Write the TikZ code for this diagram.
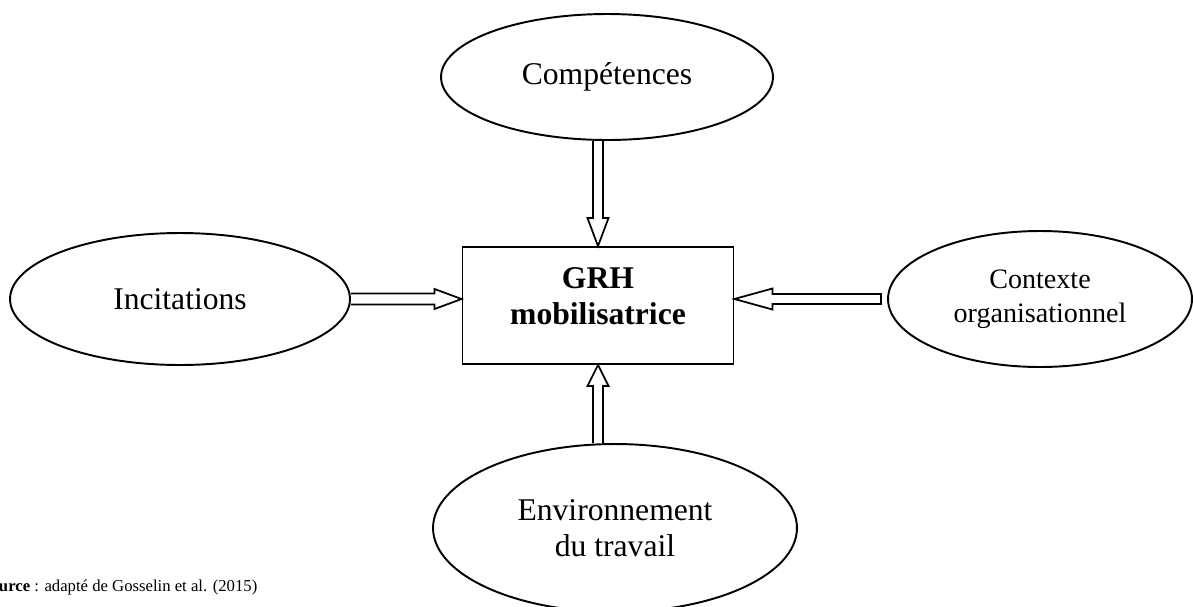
\documentclass[tikz,border=0pt]{standalone}
\usepackage{fontspec}
\setmainfont{Liberation Serif}
\usetikzlibrary{shapes.geometric,calc}
\begin{document}
\begin{tikzpicture}[x=0.02cm,y=-0.02cm,
  bubble/.style={ellipse, draw, line width=1.1pt, inner sep=0pt, align=center,
    font=\fontsize{18}{20.5}\selectfont},
  core/.style={rectangle, draw, line width=1.1pt, inner sep=0pt,
    minimum width=5.42cm, minimum height=2.34cm},
  hollow/.style={draw, line width=1pt, line join=miter}]
\useasboundingbox (0,0) rectangle (1193,606);

% factor ellipses
\node[bubble, minimum width=6.64cm, minimum height=2.52cm] (comp) at (607,77) {Compétences};
\node[bubble, minimum width=6.8cm, minimum height=2.64cm] (inc) at (180,299) {Incitations};
\node[bubble, minimum width=6.08cm, minimum height=2.72cm,
  font=\fontsize{16}{19.4}\selectfont] (ctx) at (1040,299) {Contexte\\organisationnel};
\node[bubble, minimum width=7.28cm, minimum height=3.36cm] (env) at (615,528) {Environnement\\du travail};

% central box
\node[core] (box) at (598,305.5) {};
\node[align=center, font=\bfseries\fontsize{18}{20.5}\selectfont] (grh) at (598,296) {GRH\\mobilisatrice};

% top hollow arrow
\coordinate (t0) at (box.north |- comp.south);
\draw[hollow] ($(t0)+(-5,0)$) -- ($(box.north)+(-5,-28)$) -- ($(box.north)+(-10.5,-28)$)
  -- (box.north) -- ($(box.north)+(10.5,-28)$) -- ($(box.north)+(5,-28)$) -- ($(t0)+(5,0)$);

% left hollow arrow
\coordinate (l0) at (inc.east);
\coordinate (l1) at (box.west |- inc.east);
\draw[hollow] ($(l0)+(0,-5.5)$) -- ($(l1)+(-27,-5.5)$) -- ($(l1)+(-27,-10)$)
  -- (l1) -- ($(l1)+(-27,10)$) -- ($(l1)+(-27,5.5)$) -- ($(l0)+(0,5.5)$);

% right hollow arrow
\coordinate (r0) at ($(ctx.west)+(-6,0)$);
\coordinate (r1) at (box.east |- ctx.west);
\draw[hollow] ($(r0)+(0,-5)$) -- ($(r1)+(38,-5)$) -- ($(r1)+(38,-10.5)$)
  -- (r1) -- ($(r1)+(38,10.5)$) -- ($(r1)+(38,5)$) -- ($(r0)+(0,5)$) -- cycle;

% bottom hollow arrow
\coordinate (b0) at (box.south |- env.north);
\draw[hollow] ($(b0)+(-5,0)$) -- ($(box.south)+(-5,21)$) -- ($(box.south)+(-10.5,21)$)
  -- (box.south) -- ($(box.south)+(10.5,21)$) -- ($(box.south)+(5,21)$) -- ($(b0)+(5,0)$);

% source line, starting past the left edge of the page
\node[anchor=base west, inner sep=0pt, font=\fontsize{9.5}{11}\selectfont] (src) at (-19,591)
  {\textbf{Source} : adapté de Gosselin et al. (2015)};
\end{tikzpicture}
\end{document}
